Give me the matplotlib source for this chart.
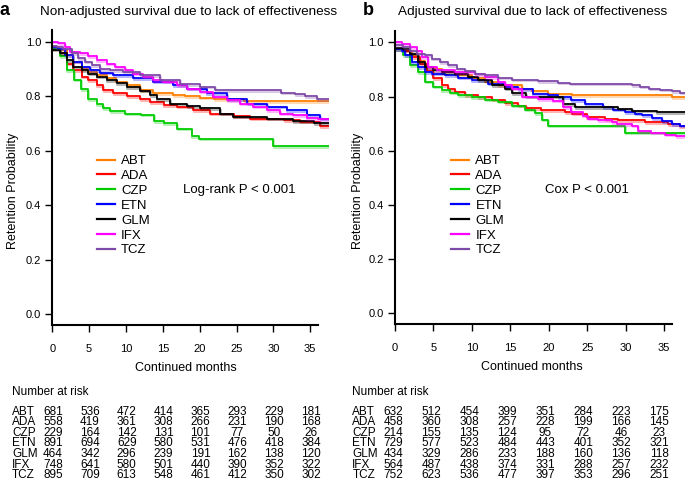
import matplotlib
matplotlib.use("Agg")
import matplotlib.pyplot as plt
import matplotlib.transforms as mtransforms
from matplotlib.lines import Line2D

plt.rcParams['font.family'] = ['Liberation Sans', 'DejaVu Sans']

drugs = ["ABT", "ADA", "CZP", "ETN", "GLM", "IFX", "TCZ"]
colors = ["#FF7F00", "#FF0000", "#00CC00", "#0000FF", "#000000", "#FF00FF", "#7E4AA8"]

# ---- Panel a: non-adjusted (step times in months, survival after step)
a_ABT_t = [0, 0.95, 1.95, 2.85, 3.98, 4.89, 6.0, 7.4, 8.7, 10.1, 11.9, 13.7, 16.4, 18.0, 20.0, 22.0, 26.0]
a_ABT_s = [0.98, 0.97, 0.95, 0.926, 0.90, 0.89, 0.877, 0.865, 0.853, 0.84, 0.822, 0.81, 0.804, 0.80, 0.794, 0.788, 0.782]
a_ADA_t = [0, 1.04, 1.95, 2.85, 3.98, 4.89, 6.0, 6.9, 8.3, 10.1, 11.9, 13.3, 15.1, 16.9, 19.1, 21.4, 24.6, 26.8, 31.4, 33.6, 36.3]
a_ADA_s = [0.975, 0.957, 0.92, 0.896, 0.871, 0.859, 0.84, 0.822, 0.81, 0.80, 0.79, 0.779, 0.767, 0.761, 0.748, 0.736, 0.726, 0.718, 0.712, 0.706, 0.69]
a_CZP_t = [0, 1.04, 1.95, 2.94, 3.9, 4.9, 6.0, 6.9, 7.8, 9.9, 12.1, 13.8, 15.1, 16.9, 18.9, 19.9, 30.0]
a_CZP_s = [0.975, 0.947, 0.896, 0.861, 0.825, 0.79, 0.77, 0.757, 0.745, 0.736, 0.732, 0.708, 0.70, 0.681, 0.653, 0.644, 0.617]
a_ETN_t = [0, 0.81, 1.72, 2.85, 3.98, 5.11, 6.47, 8.28, 11.0, 13.7, 16.4, 18.24, 20.95, 23.67, 26.38, 29.1, 31.8, 34.5, 36.3]
a_ETN_s = [0.98, 0.975, 0.95, 0.926, 0.908, 0.896, 0.886, 0.877, 0.865, 0.853, 0.84, 0.828, 0.81, 0.79, 0.773, 0.761, 0.748, 0.73, 0.718]
a_GLM_t = [0, 1.04, 1.95, 2.85, 3.98, 4.89, 6.02, 7.38, 8.73, 10.09, 11.9, 13.26, 14.16, 15.97, 18.24, 20.05, 22.76, 24.57, 29.1, 32.7, 35.5]
a_GLM_s = [0.97, 0.957, 0.933, 0.908, 0.896, 0.883, 0.871, 0.859, 0.847, 0.834, 0.82, 0.804, 0.79, 0.773, 0.763, 0.755, 0.736, 0.724, 0.718, 0.709, 0.70]
a_IFX_t = [0, 0.81, 1.72, 2.4, 3.76, 4.89, 6.02, 7.38, 8.51, 9.86, 11.0, 12.35, 13.71, 15.07, 16.88, 18.24, 20.05, 21.86, 23.67, 25.48, 27.29, 29.1, 30.9, 32.7, 34.5, 36.0]
a_IFX_s = [1.0, 0.994, 0.98, 0.963, 0.957, 0.947, 0.933, 0.92, 0.908, 0.896, 0.883, 0.871, 0.859, 0.853, 0.84, 0.828, 0.816, 0.798, 0.785, 0.773, 0.761, 0.748, 0.736, 0.73, 0.72, 0.715]
a_TCZ_t = [0, 0.59, 1.49, 2.62, 3.53, 4.43, 5.34, 6.47, 7.83, 9.64, 11.9, 14.6, 17.3, 20.0, 22.1, 31.1, 32.9, 34.3, 35.9]
a_TCZ_s = [0.985, 0.98, 0.975, 0.957, 0.939, 0.926, 0.914, 0.90, 0.896, 0.89, 0.877, 0.86, 0.845, 0.835, 0.822, 0.813, 0.807, 0.80, 0.79]

# ---- Panel b: adjusted
b_ABT_t = [0, 1.08, 2.17, 3.03, 3.9, 5.2, 6.06, 7.8, 9.96, 11.7, 13.4, 16.5, 17.8, 19.9, 23.0, 36.0]
b_ABT_s = [0.98, 0.97, 0.955, 0.933, 0.909, 0.903, 0.89, 0.879, 0.867, 0.855, 0.842, 0.83, 0.82, 0.81, 0.806, 0.797]
b_ADA_t = [0, 1.08, 1.95, 3.25, 4.11, 4.98, 6.06, 6.93, 7.8, 9.1, 10.8, 12.6, 14.3, 16.0, 17.0, 19.0, 22.1, 23.0, 24.9, 27.3, 29.0, 32.5, 35.5, 37.0]
b_ADA_s = [0.975, 0.97, 0.945, 0.921, 0.895, 0.867, 0.842, 0.827, 0.818, 0.806, 0.798, 0.788, 0.776, 0.766, 0.758, 0.75, 0.743, 0.737, 0.725, 0.716, 0.712, 0.706, 0.699, 0.69]
b_CZP_t = [0, 1.08, 1.95, 3.03, 3.9, 4.98, 6.06, 7.15, 8.23, 9.96, 11.7, 13.4, 15.2, 16.9, 18.2, 19.1, 19.9, 29.9]
b_CZP_s = [0.975, 0.952, 0.915, 0.891, 0.855, 0.836, 0.824, 0.815, 0.806, 0.798, 0.788, 0.782, 0.766, 0.752, 0.739, 0.715, 0.693, 0.667]
b_ETN_t = [0, 0.87, 1.3, 2.17, 3.03, 3.9, 4.76, 6.5, 8.23, 9.96, 12.1, 14.3, 16.0, 17.9, 19.9, 21.2, 22.9, 24.7, 27.1, 28.4, 29.9, 31.2, 32.1, 33.4, 34.7, 36.0, 37.1]
b_ETN_s = [0.975, 0.97, 0.952, 0.927, 0.909, 0.89, 0.885, 0.879, 0.87, 0.861, 0.848, 0.836, 0.827, 0.81, 0.805, 0.797, 0.787, 0.772, 0.76, 0.752, 0.743, 0.737, 0.731, 0.72, 0.709, 0.699, 0.693]
b_GLM_t = [0, 1.08, 1.95, 3.03, 3.9, 4.98, 6.06, 7.8, 9.53, 10.8, 12.6, 14.3, 15.2, 17.0, 21.9, 23.4, 29.0, 30.8, 34.0]
b_GLM_s = [0.98, 0.976, 0.958, 0.927, 0.909, 0.897, 0.891, 0.885, 0.873, 0.861, 0.842, 0.83, 0.812, 0.80, 0.773, 0.761, 0.755, 0.748, 0.743]
b_IFX_t = [0, 0.87, 1.95, 2.82, 3.46, 4.33, 5.41, 7.8, 10.4, 11.7, 13.4, 14.3, 15.2, 16.5, 18.6, 20.5, 21.9, 22.9, 24.4, 25.1, 26.4, 28.2, 28.8, 30.8, 31.6, 33.3, 35.1, 36.5]
b_IFX_s = [1.0, 0.994, 0.982, 0.97, 0.945, 0.909, 0.897, 0.89, 0.882, 0.872, 0.855, 0.842, 0.83, 0.80, 0.79, 0.785, 0.76, 0.743, 0.73, 0.718, 0.712, 0.706, 0.699, 0.693, 0.673, 0.667, 0.66, 0.655]
b_TCZ_t = [0, 1.08, 1.95, 2.82, 3.9, 4.76, 5.85, 6.93, 8.0, 9.1, 10.4, 11.7, 13.4, 15.2, 16.9, 18.6, 21.2, 22.8, 30.8, 31.9, 33.0, 34.5, 36.0, 37.1]
b_TCZ_s = [0.99, 0.982, 0.97, 0.958, 0.952, 0.94, 0.927, 0.915, 0.903, 0.895, 0.885, 0.879, 0.87, 0.863, 0.862, 0.857, 0.851, 0.848, 0.842, 0.836, 0.83, 0.826, 0.82, 0.815]

a_times = [a_ABT_t, a_ADA_t, a_CZP_t, a_ETN_t, a_GLM_t, a_IFX_t, a_TCZ_t]
a_surv = [a_ABT_s, a_ADA_s, a_CZP_s, a_ETN_s, a_GLM_s, a_IFX_s, a_TCZ_s]
b_times = [b_ABT_t, b_ADA_t, b_CZP_t, b_ETN_t, b_GLM_t, b_IFX_t, b_TCZ_t]
b_surv = [b_ABT_s, b_ADA_s, b_CZP_s, b_ETN_s, b_GLM_s, b_IFX_s, b_TCZ_s]

a_end = 37.6
b_end = 37.8

# Number at risk
risk_times = [0, 5, 10, 15, 20, 25, 30, 35]
a_risk = {
    "ABT": [681, 536, 472, 414, 365, 293, 229, 181],
    "ADA": [558, 419, 361, 308, 266, 231, 190, 168],
    "CZP": [229, 164, 142, 131, 101, 77, 50, 26],
    "ETN": [891, 694, 629, 580, 531, 476, 418, 384],
    "GLM": [464, 342, 296, 239, 191, 162, 138, 120],
    "IFX": [748, 641, 580, 501, 440, 390, 352, 322],
    "TCZ": [895, 709, 613, 548, 461, 412, 350, 302],
}
b_risk = {
    "ABT": [632, 512, 454, 399, 351, 284, 223, 175],
    "ADA": [458, 360, 308, 257, 228, 199, 166, 145],
    "CZP": [214, 155, 135, 124, 95, 72, 46, 23],
    "ETN": [729, 577, 523, 484, 443, 401, 352, 321],
    "GLM": [434, 329, 286, 233, 188, 160, 136, 118],
    "IFX": [564, 487, 438, 374, 331, 288, 257, 232],
    "TCZ": [752, 623, 536, 477, 397, 353, 296, 251],
}

W, H = 685, 488
fig = plt.figure(figsize=(W / 100, H / 100), dpi=100)


def fx(px):
    return px / W


def fy(py):
    return 1 - py / H


def make_panel(rect, xmax, times, survs, end, title, letter, letter_x, title_x,
               ptext, ptext_x, leg_x, ylab_x, xlab_x, risk, risk_label_x, risk_scale, risk_off):
    ax = fig.add_axes(rect)
    for t, s, c in zip(times, survs, colors):
        tt = list(t) + [end]
        ss = list(s) + [s[-1]]
        shadow = mtransforms.offset_copy(ax.transData, fig=fig, x=0.8, y=-1.6, units='dots')
        ax.plot(tt, ss, drawstyle='steps-post', color=c, lw=1.4, alpha=0.3,
                transform=shadow, solid_capstyle='butt')
        ax.plot(tt, ss, drawstyle='steps-post', color=c, lw=1.3, solid_capstyle='butt')
    ax.set_xlim(0, xmax)
    ax.set_ylim(-0.04, 1.043)
    for sp in ['top', 'right']:
        ax.spines[sp].set_visible(False)
    for sp in ['left', 'bottom']:
        ax.spines[sp].set_linewidth(1.5)
    ax.spines['bottom'].set_bounds(0, 36)
    ax.set_xticks(risk_times)
    ax.set_yticks([0.0, 0.2, 0.4, 0.6, 0.8, 1.0])
    ax.set_yticklabels(["0.0", "0.2", "0.4", "0.6", "0.8", "1.0"])
    ax.tick_params(axis='both', direction='out', length=5, width=1.0, labelsize=8)
    ax.tick_params(axis='x', pad=8.5)
    ax.tick_params(axis='y', pad=3)
    ax.set_ylabel("Retention Probability", fontsize=9)
    ax.yaxis.set_label_coords(ylab_x, 0.456)
    ax.set_xlabel("Continued months", fontsize=9)
    ax.xaxis.set_label_coords(xlab_x, -0.125)

    handles = [Line2D([0], [0], color=c, lw=1.6) for c in colors]
    ax.legend(handles, drugs, loc='upper left', bbox_to_anchor=(fx(leg_x), fy(155)),
              bbox_transform=fig.transFigure, frameon=False, fontsize=9.5,
              handlelength=1.4, handletextpad=0.45, labelspacing=0.2,
              borderpad=0, borderaxespad=0)
    fig.text(fx(ptext_x), fy(190), ptext, fontsize=9.5, va='center', ha='left')

    fig.text(fx(letter_x), fy(15), letter, fontsize=13, fontweight='bold', va='baseline')
    fig.text(fx(title_x), fy(14.5), title, fontsize=9.7, va='baseline')

    # Number at risk table
    fig.text(fx(risk_label_x), fy(391.7), "Number at risk", fontsize=8.5, va='center')
    row_y = [411.7, 422.3, 432.9, 443.5, 454.1, 464.7, 475.3]
    blend = mtransforms.blended_transform_factory(ax.transData, fig.transFigure)
    for d, yy in zip(drugs, row_y):
        fig.text(fx(risk_label_x), fy(yy), d, fontsize=8.5, va='center')
        for tx, n in zip(risk_times, risk[d]):
            ax.text(tx * risk_scale + risk_off, fy(yy), str(n), transform=blend, fontsize=8.5,
                    va='center', ha='center', clip_on=False)
    return ax


rect_a = [fx(52.3), fy(325), fx(329.4 - 52.3), (325 - 30) / H]
rect_b = [fx(395), fy(324.2), fx(685 - 395), (324.2 - 30.8) / H]

make_panel(rect_a, a_end, a_times, a_surv, a_end,
           "Non-adjusted survival due to lack of effectiveness", "a", 0.0, 40,
           "Log-rank P < 0.001", 183.3, 96.7, -0.119, 0.4825, a_risk, 12, 1.0, 0.1)
make_panel(rect_b, b_end - 0.1, b_times, b_surv, b_end,
           "Adjusted survival due to lack of effectiveness", "b", 363, 397.7,
           "Cox P < 0.001", 545, 451, -0.106, 0.471, b_risk, 352.3, 0.987, -0.2)

fig.savefig("out.png", dpi=100)
